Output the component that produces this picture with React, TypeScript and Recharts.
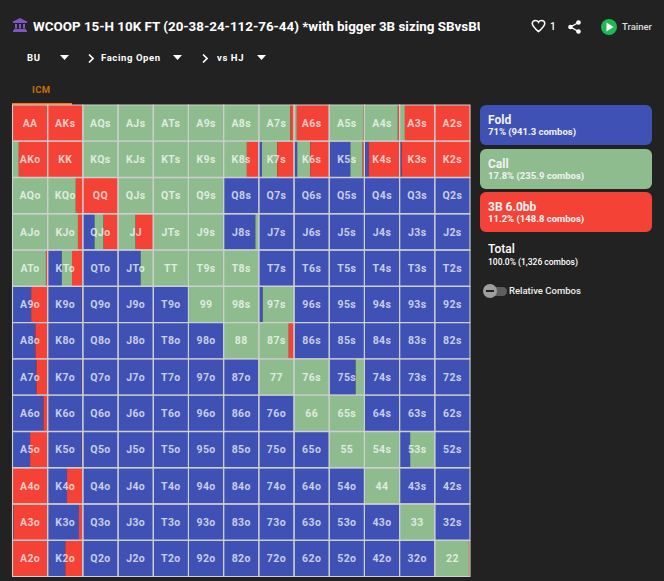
import { BarChart, Bar, XAxis, YAxis, LabelList } from "recharts";

const ranks = ["A", "K", "Q", "J", "T", "9", "8", "7", "6", "5", "4", "3", "2"];

const foldPct = [
  [0, 0, 0, 0, 0, 0, 0, 0, 0, 0, 0, 0, 0],
  [0, 0, 0, 0, 0, 0, 0, 9, 9, 60, 12, 6, 3],
  [0, 0, 0, 0, 0, 0, 100, 100, 100, 100, 100, 100, 100],
  [0, 0, 33, 0, 0, 0, 90, 100, 100, 100, 100, 100, 100],
  [0, 40, 100, 64, 0, 0, 0, 100, 100, 100, 100, 100, 100],
  [53, 97, 100, 100, 100, 0, 0, 11, 100, 100, 100, 100, 100],
  [65, 100, 100, 100, 100, 100, 0, 0, 100, 100, 100, 100, 100],
  [68, 97, 100, 100, 100, 100, 100, 0, 0, 75, 100, 100, 100],
  [88, 100, 100, 100, 100, 100, 100, 100, 0, 0, 100, 100, 100],
  [50, 97, 100, 100, 100, 100, 100, 100, 100, 0, 0, 30, 100],
  [0, 55, 100, 100, 100, 100, 100, 100, 100, 100, 0, 100, 100],
  [3, 89, 100, 100, 100, 100, 100, 100, 100, 100, 100, 0, 100],
  [0, 50, 100, 100, 100, 100, 100, 100, 100, 100, 100, 100, 0],
];

const callPct = [
  [0, 0, 100, 100, 100, 100, 100, 90, 8, 98, 95, 15, 0],
  [18, 0, 100, 100, 100, 100, 66, 43, 37, 35, 0, 0, 0],
  [100, 80, 0, 100, 100, 100, 0, 0, 0, 0, 0, 0, 0],
  [100, 86, 26, 50, 100, 100, 10, 0, 0, 0, 0, 0, 0],
  [95, 29, 0, 36, 100, 100, 100, 0, 0, 0, 0, 0, 0],
  [0, 0, 0, 0, 0, 100, 100, 89, 0, 0, 0, 0, 0],
  [0, 0, 0, 0, 0, 0, 100, 85, 0, 0, 0, 0, 0],
  [0, 0, 0, 0, 0, 0, 0, 100, 100, 24, 0, 0, 0],
  [0, 0, 0, 0, 0, 0, 0, 0, 100, 100, 0, 0, 0],
  [0, 0, 0, 0, 0, 0, 0, 0, 0, 100, 100, 70, 0],
  [0, 0, 0, 0, 0, 0, 0, 0, 0, 0, 100, 0, 0],
  [0, 0, 0, 0, 0, 0, 0, 0, 0, 0, 0, 100, 0],
  [0, 0, 0, 0, 0, 0, 0, 0, 0, 0, 0, 0, 97],
];

const raisePct = [
  [100, 100, 0, 0, 0, 0, 0, 10, 92, 2, 5, 85, 100],
  [82, 100, 0, 0, 0, 0, 34, 48, 54, 5, 88, 94, 97],
  [0, 20, 100, 0, 0, 0, 0, 0, 0, 0, 0, 0, 0],
  [0, 14, 41, 50, 0, 0, 0, 0, 0, 0, 0, 0, 0],
  [5, 31, 0, 0, 0, 0, 0, 0, 0, 0, 0, 0, 0],
  [47, 3, 0, 0, 0, 0, 0, 0, 0, 0, 0, 0, 0],
  [35, 0, 0, 0, 0, 0, 0, 15, 0, 0, 0, 0, 0],
  [32, 3, 0, 0, 0, 0, 0, 0, 0, 1, 0, 0, 0],
  [12, 0, 0, 0, 0, 0, 0, 0, 0, 0, 0, 0, 0],
  [50, 3, 0, 0, 0, 0, 0, 0, 0, 0, 0, 0, 0],
  [100, 45, 0, 0, 0, 0, 0, 0, 0, 0, 0, 0, 0],
  [97, 11, 0, 0, 0, 0, 0, 0, 0, 0, 0, 0, 0],
  [100, 50, 0, 0, 0, 0, 0, 0, 0, 0, 0, 0, 3],
];

const actionNames = ["Fold", "Call", "3B 6.0bb"];
const actionShare = ["71%", "17.8%", "11.2%"];
const actionCombos = ["941.3", "235.9", "148.8"];
const actionColors = ["#3f51b5", "#8fbc8f", "#f44336"];

const handName = (r: number, c: number) => {
  if (r === c) return ranks[r] + ranks[c];
  return r < c ? ranks[r] + ranks[c] + "s" : ranks[c] + ranks[r] + "o";
};

// one row per rank, each cell is fold + call + raise stacked left to right
const rows = ranks.map((rank, r) => {
  const row: Record<string, string | number> = { rank };
  ranks.forEach((_, c) => {
    row[`f${c}`] = foldPct[r][c];
    row[`c${c}`] = callPct[r][c];
    row[`r${c}`] = raisePct[r][c];
    row[`whole${c}`] = 100;
    row[`hand${c}`] = handName(r, c);
  });
  return row;
});

const font = "Roboto, sans-serif";
const plotMargin = { top: 2, right: 2.5, bottom: 2.25, left: 2.5 };
const overlay = { position: "absolute", left: 10, top: 103 } as const;

function Txt({ x, y, size, weight = 400, color = "#fff", children, spacing }: any) {
  return (
    <div
      style={{
        position: "absolute",
        left: x,
        top: y,
        fontSize: size,
        fontWeight: weight,
        color,
        letterSpacing: spacing,
        lineHeight: 1,
        whiteSpace: "nowrap",
      }}
    >
      {children}
    </div>
  );
}

function Caret({ x, y }: { x: number; y: number }) {
  return (
    <svg style={{ position: "absolute", left: x, top: y }} width="9" height="5">
      <path d="M0 0H9L4.5 5Z" fill="#fff" />
    </svg>
  );
}

function Chevron({ x, y }: { x: number; y: number }) {
  return (
    <svg style={{ position: "absolute", left: x, top: y }} width="6" height="9">
      <path d="M1 0.5L5 4.5L1 8.5" fill="none" stroke="#fff" strokeWidth="1.6" />
    </svg>
  );
}

function Header() {
  return (
    <>
      <svg style={{ position: "absolute", left: 13, top: 18 }} width="14" height="14" viewBox="0 0 14 14">
        <path d="M7 0L14 3.5V5H0V3.5Z M1 11H13V12.5H1Z M0 12.5H14V14H0Z M2 6H4V10.5H2Z M6 6H8V10.5H6Z M10 6H12V10.5H10Z" fill="#7e57c2" />
      </svg>
      <div style={{ position: "absolute", left: 33, top: 18, width: 447, overflow: "hidden" }}>
        <div style={{ fontSize: 13.4, fontWeight: 700, color: "#fff", whiteSpace: "nowrap", lineHeight: "17px" }}>
          WCOOP 15-H 10K FT (20-38-24-112-76-44) *with bigger 3B sizing SBvsBU
        </div>
      </div>
      <svg style={{ position: "absolute", left: 531, top: 19 }} width="15" height="14" viewBox="0 0 24 22">
        <path d="M12 20C4 13 2 10 2 7C2 4 4.5 2 7 2C9 2 11 3 12 5C13 3 15 2 17 2C19.5 2 22 4 22 7C22 10 20 13 12 20Z" fill="none" stroke="#fff" strokeWidth="2.4" />
      </svg>
      <Txt x={550} y={22} size={10} weight={500}>1</Txt>
      <svg style={{ position: "absolute", left: 568, top: 20 }} width="13" height="14" viewBox="0 0 13 14">
        <path d="M10.5 2.5L2.5 7L10.5 11.5" fill="none" stroke="#fff" strokeWidth="1.4" />
        <circle cx="10.5" cy="2.5" r="2.3" fill="#fff" />
        <circle cx="2.5" cy="7" r="2.3" fill="#fff" />
        <circle cx="10.5" cy="11.5" r="2.3" fill="#fff" />
      </svg>
      <svg style={{ position: "absolute", left: 601, top: 19 }} width="16" height="16" viewBox="0 0 16 16">
        <circle cx="8" cy="8" r="8" fill="#1db954" />
        <path d="M5.5 3.5L12.5 8L5.5 12.5Z" fill="#fff" />
      </svg>
      <Txt x={622} y={22} size={9.5} weight={500} color="#ddd">Trainer</Txt>

      <Txt x={27} y={53} size={9.5} weight={700} spacing={0.6}>BU</Txt>
      <Caret x={60} y={55} />
      <Chevron x={88} y={54} />
      <Txt x={101} y={53} size={9.5} weight={700} spacing={0.6}>Facing Open</Txt>
      <Caret x={173} y={55} />
      <Chevron x={202} y={54} />
      <Txt x={217} y={53} size={9.5} weight={700} spacing={0.6}>vs HJ</Txt>
      <Caret x={257} y={55} />

      <Txt x={32} y={85} size={9.5} weight={700} color="#c96f05" spacing={0.4}>ICM</Txt>
      <div style={{ position: "absolute", left: 12, top: 103, width: 60, height: 2, background: "#f57c00" }} />
    </>
  );
}

function SidePanel() {
  const tops = [105, 149, 192];
  return (
    <>
      {actionNames.map((name, i) => (
        <div
          key={name}
          style={{
            position: "absolute",
            left: 480,
            top: tops[i],
            width: 172,
            height: 40,
            borderRadius: 6,
            background: actionColors[i],
          }}
        >
          <Txt x={8} y={8.5} size={12} weight={700} color="#f2f2f2">{name}</Txt>
          <Txt x={8} y={22} size={9.5} weight={700} color="#f2f2f2">{`${actionShare[i]} (${actionCombos[i]} combos)`}</Txt>
        </div>
      ))}
      <Txt x={488} y={243} size={12} weight={500}>Total</Txt>
      <Txt x={488} y={258} size={8.5} weight={500}>100.0% (1,326 combos)</Txt>
      <div style={{ position: "absolute", left: 484, top: 287, width: 23, height: 9, borderRadius: 5, background: "#5e5e5e" }} />
      <div style={{ position: "absolute", left: 483, top: 284, width: 14, height: 14, borderRadius: 7, background: "#9e9e9e" }} />
      <div style={{ position: "absolute", left: 486, top: 290, width: 8, height: 1.5, background: "#222" }} />
      <Txt x={509} y={286} size={9.5} weight={500} color="#eee">Relative Combos</Txt>
    </>
  );
}

export default function App() {
  return (
    <div
      style={{
        position: "absolute",
        left: 0,
        top: 0,
        width: 664,
        height: 581,
        background: "#222222",
        fontFamily: font,
        overflow: "hidden",
      }}
    >
      <Header />
      <SidePanel />
      {/* coloured segments */}
      <div style={overlay}>
        <BarChart width={462.5} height={476} data={rows} layout="vertical" margin={plotMargin} barCategoryGap={0}>
          <XAxis type="number" domain={[0, 1300]} hide />
          <YAxis type="category" dataKey="rank" hide />
          {ranks.flatMap((_, c) => [
            <Bar key={`f${c}`} dataKey={`f${c}`} stackId="mix" fill={actionColors[0]} isAnimationActive={false} />,
            <Bar key={`c${c}`} dataKey={`c${c}`} stackId="mix" fill={actionColors[1]} isAnimationActive={false} />,
            <Bar key={`r${c}`} dataKey={`r${c}`} stackId="mix" fill={actionColors[2]} isAnimationActive={false} />,
          ])}
        </BarChart>
      </div>
      {/* cell outlines and hand names on top */}
      <div style={overlay}>
        <BarChart width={462.5} height={476} data={rows} layout="vertical" margin={plotMargin} barCategoryGap={0}>
          <XAxis type="number" domain={[0, 1300]} hide />
          <YAxis type="category" dataKey="rank" hide />
          {ranks.map((_, c) => (
            <Bar
              key={`whole${c}`}
              dataKey={`whole${c}`}
              stackId="cells"
              fill="none"
              stroke="#cfcfcf"
              strokeWidth={1.1}
              isAnimationActive={false}
            >
              <LabelList
                dataKey={`hand${c}`}
                position="center"
                fill="rgba(255,255,255,0.72)"
                fontSize={10.5}
                fontWeight={700}
                fontFamily={font}
                letterSpacing={0.4}
              />
            </Bar>
          ))}
        </BarChart>
      </div>
    </div>
  );
}
